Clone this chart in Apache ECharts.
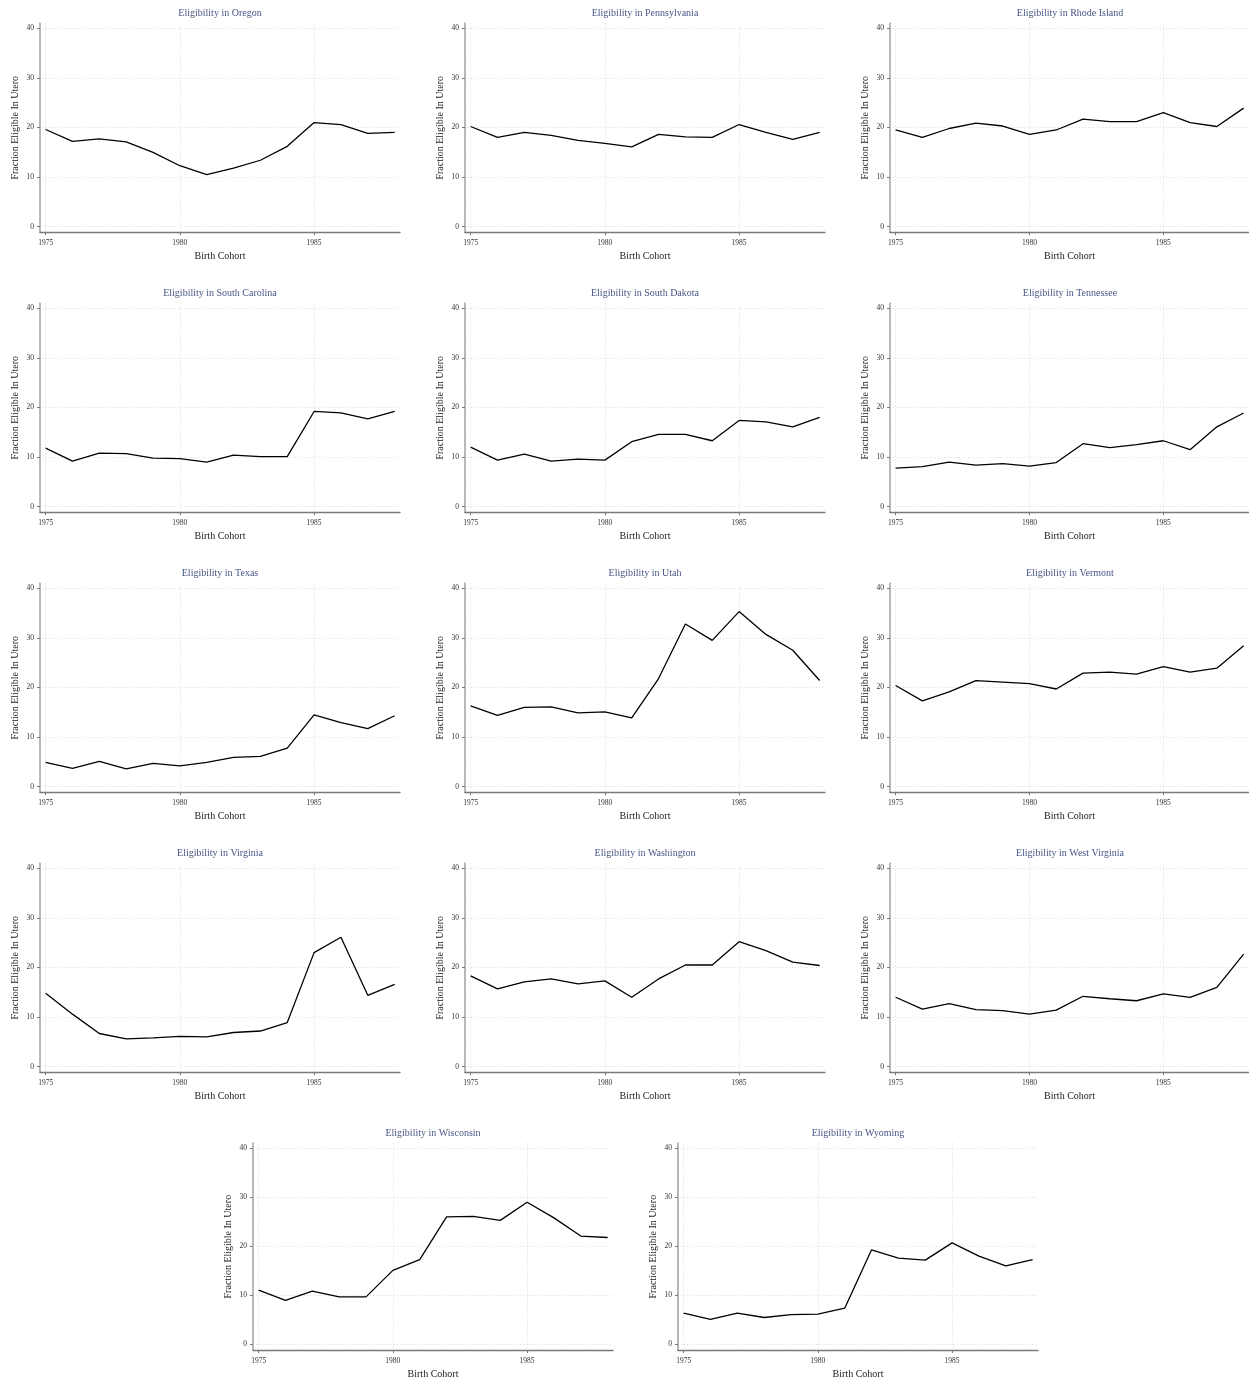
<!DOCTYPE html>
<html>
<head>
<meta charset="utf-8">
<script src="https://cdn.jsdelivr.net/npm/echarts@6/dist/echarts.min.js"></script>
<style>
html,body{margin:0;padding:0;background:#fff;}
#chart{width:1249px;height:1380px;}
</style>
</head>
<body>
<div id="chart"></div>
<script>
// ---- data ----
const years = [1975,1976,1977,1978,1979,1980,1981,1982,1983,1984,1985,1986,1987,1988];
const xTicks = [1975,1980,1985];
const yTicks = [0,10,20,30,40];
const states = ['Oregon','Pennsylvania','Rhode Island','South Carolina','South Dakota','Tennessee','Texas','Utah','Vermont','Virginia','Washington','West Virginia','Wisconsin','Wyoming'];

const oregon        = [19.6,17.2,17.7,17.1,15.0,12.3,10.5,11.8,13.4,16.2,21.0,20.6,18.8,19.0];
const pennsylvania  = [20.2,18.0,19.0,18.4,17.4,16.8,16.1,18.6,18.1,18.0,20.6,19.0,17.6,19.0];
const rhodeIsland   = [19.5,18.0,19.8,20.9,20.3,18.6,19.5,21.7,21.2,21.2,23.0,21.0,20.2,23.9];
const southCarolina = [11.8,9.2,10.8,10.7,9.8,9.7,9.0,10.4,10.1,10.1,19.2,18.9,17.7,19.2];
const southDakota   = [12.0,9.4,10.6,9.2,9.6,9.4,13.1,14.6,14.6,13.3,17.4,17.1,16.1,18.0];
const tennessee     = [7.8,8.1,9.0,8.4,8.7,8.2,8.9,12.7,11.9,12.5,13.3,11.5,16.1,18.9];
const texas         = [4.9,3.7,5.1,3.6,4.7,4.2,4.9,5.9,6.1,7.8,14.5,12.9,11.7,14.3];
const utah          = [16.3,14.4,16.0,16.1,14.9,15.1,13.9,21.8,32.8,29.5,35.3,30.7,27.5,21.4];
const vermont       = [20.4,17.3,19.1,21.4,21.1,20.8,19.7,22.9,23.1,22.7,24.2,23.1,23.9,28.4];
const virginia      = [14.8,10.6,6.7,5.6,5.8,6.1,6.0,6.9,7.2,8.9,23.0,26.1,14.4,16.6];
const washington    = [18.3,15.7,17.1,17.7,16.7,17.3,14.0,17.7,20.5,20.5,25.2,23.4,21.1,20.4];
const westVirginia  = [14.0,11.6,12.7,11.5,11.3,10.6,11.4,14.2,13.7,13.3,14.7,14.0,16.0,22.7];
const wisconsin     = [11.1,9.0,10.9,9.7,9.7,15.1,17.3,26.0,26.1,25.3,29.0,25.8,22.1,21.8];
const wyoming       = [6.4,5.1,6.4,5.5,6.1,6.2,7.4,19.3,17.6,17.2,20.7,18.0,16.0,17.3];

const seriesData = [oregon,pennsylvania,rhodeIsland,southCarolina,southDakota,tennessee,texas,utah,vermont,virginia,washington,westVirginia,wisconsin,wyoming];

// ---- layout ----
const panelOrigins = [
  [0,0],[425,0],[850,0],
  [0,280],[425,280],[850,280],
  [0,560],[425,560],[850,560],
  [0,840],[425,840],[850,840],
  [213,1120],[638,1120]
];

const FONT = '"Liberation Serif","Times New Roman",serif';
const grids = [], xAxes = [], yAxes = [], series = [], titles = [];

states.forEach((st, i) => {
  const [px, py] = panelOrigins[i];
  grids.push({left: px + 40, top: py + 23.3, width: 360, height: 209, containLabel: false});
  titles.push({
    text: 'Eligibility in ' + st,
    left: px + 220, top: py + 8.5, textAlign: 'center', padding: 0,
    textStyle: {fontFamily: FONT, fontSize: 10, fontWeight: 'normal', color: '#475686'}
  });
  xAxes.push({
    type: 'value', gridIndex: i, min: 1974.79, max: 1988.2,
    name: 'Birth Cohort', nameLocation: 'middle', nameGap: 19,
    nameTextStyle: {fontFamily: FONT, fontSize: 10, color: '#222'},
    axisLine: {show: true, onZero: false, lineStyle: {color: '#7a7a7a', width: 1.3}},
    axisTick: {show: true, length: 3, customValues: xTicks, lineStyle: {color: '#7a7a7a'}},
    axisLabel: {customValues: xTicks, margin: 7, fontFamily: FONT, fontSize: 7.5, color: '#333',
                formatter: v => String(Math.round(v))},
    splitLine: {show: true, lineStyle: {color: '#dcdcdc', type: [1, 2], width: 1}}
  });
  yAxes.push({
    type: 'value', gridIndex: i, min: -1.12, max: 41,
    name: 'Fraction Eligible In Utero', nameLocation: 'middle', nameGap: 20,
    nameTextStyle: {fontFamily: FONT, fontSize: 10, color: '#222'},
    axisLine: {show: true, onZero: false, lineStyle: {color: '#b8b8b8', width: 2}},
    axisTick: {show: true, length: 3, customValues: yTicks, lineStyle: {color: '#7a7a7a'}},
    axisLabel: {customValues: yTicks, margin: 6, fontFamily: FONT, fontSize: 7.5, color: '#333'},
    splitLine: {show: true, lineStyle: {color: '#dcdcdc', type: [1, 2], width: 1}}
  });
  series.push({
    type: 'line', xAxisIndex: i, yAxisIndex: i,
    data: years.map((y, k) => [y, seriesData[i][k]]),
    symbol: 'none', lineStyle: {color: '#000', width: 1.3}, animation: false
  });
});

const chart = echarts.init(document.getElementById('chart'), null, {renderer: 'canvas'});
chart.setOption({
  backgroundColor: '#fff',
  animation: false,
  title: titles,
  grid: grids,
  xAxis: xAxes,
  yAxis: yAxes,
  series: series
});
</script>
</body>
</html>
